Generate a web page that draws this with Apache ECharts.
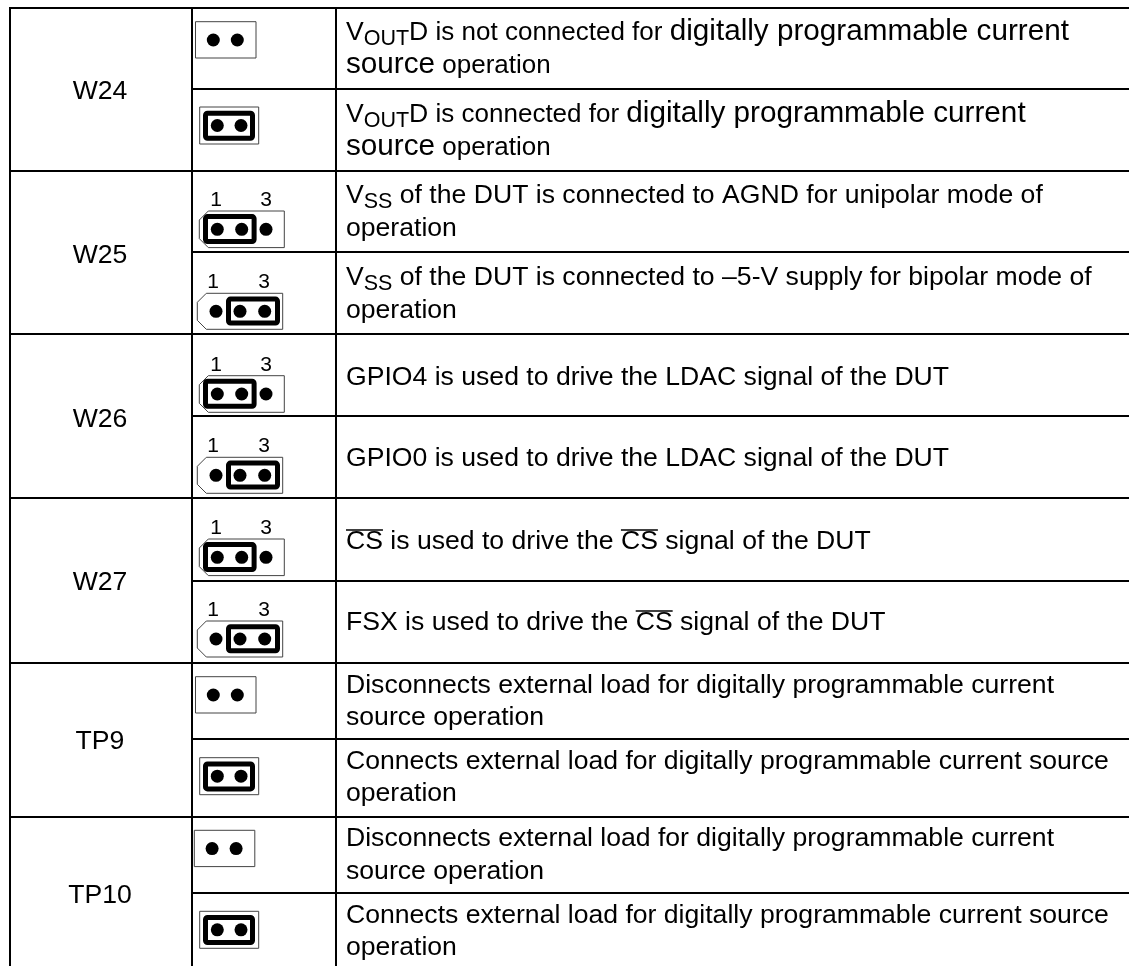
<!DOCTYPE html>
<html>
<head>
<meta charset="utf-8">
<title>Jumper settings</title>
<style>
  html, body { margin: 0; padding: 0; background: #fff; }
  #main { width: 1129px; height: 966px; }
</style>
<script src="https://cdn.jsdelivr.net/npm/echarts@6/dist/echarts.min.js"></script>
</head>
<body>
<div id="main"></div>
<script>
// table content
var groupNames = ['W24', 'W25', 'W26', 'W27', 'TP9', 'TP10']
var rowJumpers = ['open', 'short', 'left', 'right', 'left', 'right', 'left', 'right', 'open', 'short', 'open', 'short']
// markup: _x_ subscript, ^x^ larger type, *x* smaller type, ~x~ overline
var rowTexts = [
  ['V_OUT_D* is not connected for *^digitally programmable current^', '^source^* operation*'],
  ['V_OUT_D* is connected for *^digitally programmable current^', '^source^* operation*'],
  ['V_SS_ of the DUT is connected to AGND for unipolar mode of', 'operation'],
  ['V_SS_ of the DUT is connected to \u20135-V supply for bipolar mode of', 'operation'],
  ['GPIO4 is used to drive the LDAC signal of the DUT'],
  ['GPIO0 is used to drive the LDAC signal of the DUT'],
  ['~CS~ is used to drive the ~CS~ signal of the DUT'],
  ['FSX is used to drive the ~CS~ signal of the DUT'],
  ['Disconnects external load for digitally programmable current', 'source operation'],
  ['Connects external load for digitally programmable current source', 'operation'],
  ['Disconnects external load for digitally programmable current', 'source operation'],
  ['Connects external load for digitally programmable current source', 'operation']
]
var pinLabels = ['1', '3']

// page layout, in the pixel scale of the hidden axes
var columnLines = [10, 192, 336]
var rowLines = [8, 89, 171, 252, 334, 416, 498, 581, 663, 739, 817, 893]
var groupBaselines = [101, 265, 429, 592, 751, 905]
var textBaselines = [[42, 75], [124, 157], [205, 238], [287, 320], [387], [468], [551], [632], [695, 727], [771, 803], [848, 881], [925, 957]]
var jumperOrigins = [[195.5, 21.7], [199.7, 107], [199.3, 211], [197.3, 293.3], [199.3, 375.7], [197.3, 457.3], [199.3, 539], [197.3, 621], [195.5, 676.7], [199.7, 757.7], [194.3, 830.3], [199.7, 911.3]]
var jumperShapes = {
  open: { w: 60.5, h: 36.3, chamfer: 0, dots: [17.8, 41.8], dotY: 18.3, labels: null, bar: null },
  short: { w: 59, h: 37, chamfer: 0, dots: [17.6, 41.3], dotY: 18.5, labels: null, bar: [5.8, 6.2, 47, 25] },
  left: { w: 85, h: 36.6, chamfer: 9, dots: [18, 42.4, 66.7], dotY: 18.3, labels: [16.7, 66.7], bar: [6.2, 5.6, 48.6, 25] },
  right: { w: 85.4, h: 36, chamfer: 9, dots: [18.7, 42.7, 67.4], dotY: 18, labels: [15.7, 66.7], bar: [31.2, 5.8, 49, 24] }
}

var FONT = '"Liberation Sans", Arial, sans-serif'
var RUN_SIZES = { plain: 26.6, small: 26, big: 29.7, sub: 21.5, over: 26.6 }
var SUB_DROP = 4.5
var MIDDLE_RATIO = 0.3465
var TEXT_LEFT = 346
var GROUP_CENTER = 100
var LINE_RIGHT = 1129
var PAGE_BOTTOM = 966

var measureCtx = document.createElement('canvas').getContext('2d')

function textWidth (text, size) {
  measureCtx.font = size + 'px ' + FONT
  return measureCtx.measureText(text).width
}

// split one marked up line into runs of plain / sub / big / small / over text
function parseRuns (line) {
  var kinds = { '_': 'sub', '^': 'big', '*': 'small', '~': 'over' }
  var runs = []
  line.split(/([_^*~][^_^*~]*[_^*~])/).forEach(function (part) {
    if (!part) return
    var kind = kinds[part[0]]
    if (kind) {
      runs.push({ text: part.slice(1, -1), kind: kind })
    } else {
      runs.push({ text: part, kind: 'plain' })
    }
  })
  return runs
}

function textEl (x, baseline, text, size, align) {
  return {
    type: 'text',
    silent: true,
    style: {
      x: x,
      y: baseline - MIDDLE_RATIO * size,
      text: text,
      fill: '#000',
      font: size + 'px ' + FONT,
      textAlign: align || 'left',
      textVerticalAlign: 'middle'
    }
  }
}

function renderRule (params, api) {
  var p0 = api.coord([api.value(0), api.value(1)])
  var p1 = api.coord([api.value(2), api.value(3)])
  return {
    type: 'line',
    silent: true,
    shape: { x1: p0[0], y1: p0[1], x2: p1[0], y2: p1[1] },
    style: { stroke: '#000', lineWidth: 2 }
  }
}

function renderGroup (params, api) {
  var i = api.value(0)
  var p = api.coord([GROUP_CENTER, groupBaselines[i]])
  return textEl(p[0], p[1], groupNames[i], RUN_SIZES.plain, 'center')
}

function renderText (params, api) {
  var i = api.value(0)
  var children = []
  rowTexts[i].forEach(function (line, n) {
    var p = api.coord([TEXT_LEFT, textBaselines[i][n]])
    var x = p[0]
    parseRuns(line).forEach(function (run) {
      var size = RUN_SIZES[run.kind]
      var y = run.kind === 'sub' ? p[1] + SUB_DROP : p[1]
      var w = textWidth(run.text, size)
      children.push(textEl(x, y, run.text, size))
      if (run.kind === 'over') {
        children.push({
          type: 'line',
          silent: true,
          shape: { x1: x, y1: p[1] - 21, x2: x + w, y2: p[1] - 21 },
          style: { stroke: '#000', lineWidth: 1.5 }
        })
      }
      x += w
    })
  })
  return { type: 'group', children: children }
}

function renderJumper (params, api) {
  var i = api.value(0)
  var shape = jumperShapes[rowJumpers[i]]
  var o = api.coord(jumperOrigins[i])
  var c = shape.chamfer
  var children = [{
    type: 'polygon',
    silent: true,
    shape: {
      points: c
        ? [[c, 0], [shape.w, 0], [shape.w, shape.h], [c, shape.h], [0, shape.h - c], [0, c]]
        : [[0, 0], [shape.w, 0], [shape.w, shape.h], [0, shape.h]]
    },
    style: { fill: '#fff', stroke: '#444', lineWidth: 1 }
  }]
  shape.dots.forEach(function (dx) {
    children.push({
      type: 'circle',
      silent: true,
      shape: { cx: dx, cy: shape.dotY, r: 6.5 },
      style: { fill: '#000' }
    })
  })
  if (shape.bar) {
    children.push({
      type: 'rect',
      silent: true,
      shape: { x: shape.bar[0], y: shape.bar[1], width: shape.bar[2], height: shape.bar[3], r: 2 },
      style: { fill: 'none', stroke: '#000', lineWidth: 5 }
    })
  }
  if (shape.labels) {
    shape.labels.forEach(function (dx, n) {
      children.push(textEl(dx, -3.5, pinLabels[n], 21, 'center'))
    })
  }
  return { type: 'group', x: o[0], y: o[1], children: children }
}

var ruleData = []
rowLines.forEach(function (y, i) {
  var from = i % 2 === 0 ? columnLines[0] - 1 : columnLines[1]
  ruleData.push([from, y, LINE_RIGHT, y])
})
columnLines.forEach(function (x) {
  ruleData.push([x, rowLines[0], x, PAGE_BOTTOM])
})

var rowIndex = rowTexts.map(function (t, i) { return [i] })
var groupIndex = groupNames.map(function (t, i) { return [i] })

var chart = echarts.init(document.getElementById('main'))
chart.setOption({
  animation: false,
  backgroundColor: '#fff',
  grid: { left: 0, right: 0, top: 0, bottom: 0 },
  xAxis: { type: 'value', min: 0, max: 1129, show: false },
  yAxis: { type: 'value', min: 0, max: 966, inverse: true, show: false },
  series: [
    { type: 'custom', renderItem: renderRule, data: ruleData, clip: false, encode: { x: [0, 2], y: [1, 3] } },
    { type: 'custom', renderItem: renderGroup, data: groupIndex, encode: { x: -1, y: -1 } },
    { type: 'custom', renderItem: renderJumper, data: rowIndex, encode: { x: -1, y: -1 } },
    { type: 'custom', renderItem: renderText, data: rowIndex, encode: { x: -1, y: -1 } }
  ]
})
</script>
</body>
</html>
